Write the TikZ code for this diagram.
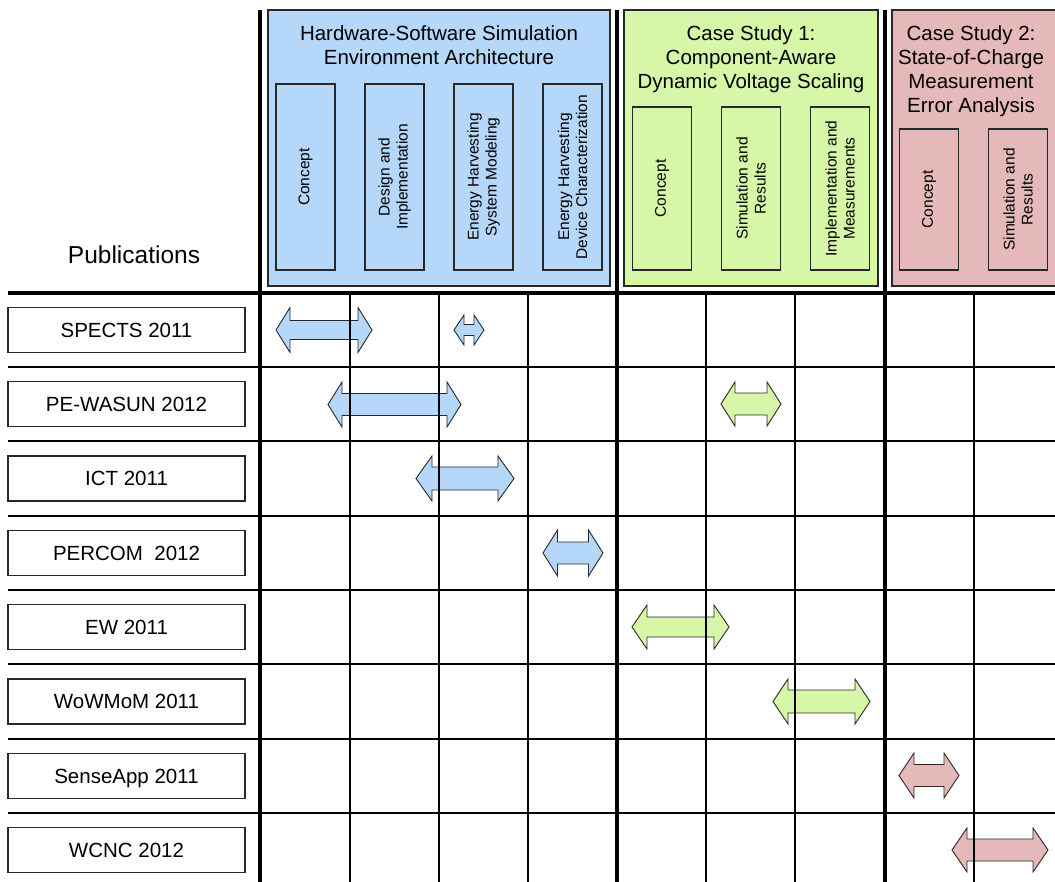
\documentclass[tikz,border=0pt]{standalone}
\usepackage{fontspec}
\setmainfont{Liberation Sans}
\definecolor{hwblue}{RGB}{180,215,250}
\definecolor{csgreen}{RGB}{215,247,168}
\definecolor{csred}{RGB}{229,185,186}
\definecolor{edge}{RGB}{40,40,40}

% double-headed block arrow: fill, left x, right x, centre y, half height, half shaft, head length
\newcommand\dualarrow[7]{%
  \filldraw[arrowshape, fill=#1]
    (#2,#4) -- (#2+#7,#4-#5) -- (#2+#7,#4-#6) -- (#3-#7,#4-#6) -- (#3-#7,#4-#5)
    -- (#3,#4) -- (#3-#7,#4+#5) -- (#3-#7,#4+#6) -- (#2+#7,#4+#6) -- (#2+#7,#4+#5) -- cycle;}

\begin{document}
\begin{tikzpicture}[x=1pt,y=-1pt,
  headbox/.style={draw=edge, line width=1.3pt, inner sep=0pt},
  subbox/.style={draw=edge, line width=1.2pt, rotate=90, inner sep=0pt, align=center,
    minimum height=59pt, font=\fontsize{15.5}{18}\selectfont},
  pubbox/.style={draw=edge, line width=1.2pt, minimum width=237pt, minimum height=45pt,
    inner sep=0pt, text height=14.8pt, text depth=0pt, font=\fontsize{20.5}{24}\selectfont},
  title/.style={anchor=north, inner sep=0pt, align=center, font=\fontsize{20.5}{24}\selectfont},
  arrowshape/.style={draw=edge, line width=0.9pt, line join=miter},
  gridthick/.style={line width=3.2pt},
  gridthin/.style={line width=1.7pt}]
\useasboundingbox (0,0) rectangle (1055,882);
\clip (0,0) rectangle (1055,882);

% column groups
\node[headbox, fill=hwblue, minimum width=342pt, minimum height=276pt] (hw) at (439,148) {};
\node[headbox, fill=csgreen, minimum width=254pt, minimum height=276pt] (cs1) at (751,148) {};
\node[headbox, fill=csred, minimum width=172pt, minimum height=276pt] (cs2) at (978,148) {};

\node[title] (hwt) at (439,25) {Hardware-Software Simulation\\Environment Architecture};
\node[title] (cs1t) at (751,25) {Case Study 1:\\Component-Aware\\Dynamic Voltage Scaling};
\node[title] (cs2t) at (971,25) {Case Study 2:\\State-of-Charge\\Measurement\\Error Analysis};

% column sub-headings
\node[subbox, fill=hwblue, minimum width=186pt] (hw1) at (305.5,177) {Concept};
\node[subbox, fill=hwblue, minimum width=186pt] (hw2) at (394.5,177) {Design and\\Implementation};
\node[subbox, fill=hwblue, minimum width=186pt] (hw3) at (483.5,177) {Energy Harvesting\\System Modeling};
\node[subbox, fill=hwblue, minimum width=186pt] (hw4) at (572.5,177) {Energy Harvesting\\Device Characterization};

\node[subbox, fill=csgreen, minimum width=163pt] (cs11) at (662,188.5) {Concept};
\node[subbox, fill=csgreen, minimum width=163pt] (cs12) at (751,188.5) {Simulation and\\Results};
\node[subbox, fill=csgreen, minimum width=163pt] (cs13) at (840,188.5) {Implementation and\\Measurements};

\node[subbox, fill=csred, minimum width=141pt] (cs21) at (929,199.5) {Concept};
\node[subbox, fill=csred, minimum width=141pt] (cs22) at (1018,199.5) {Simulation and\\Results};

% row labels
\node[inner sep=0pt, font=\fontsize{24.5}{28}\selectfont] (pubs) at (134,255) {Publications};
\node[pubbox] (p1) at (126.5,330)   {SPECTS 2011};
\node[pubbox] (p2) at (126.5,404)   {PE-WASUN 2012};
\node[pubbox] (p3) at (126.5,478.5) {ICT 2011};
\node[pubbox] (p4) at (126.5,553)   {PERCOM~~2012};
\node[pubbox] (p5) at (126.5,627)   {EW 2011};
\node[pubbox] (p6) at (126.5,701.5) {WoWMoM 2011};
\node[pubbox] (p7) at (126.5,776)   {SenseApp 2011};
\node[pubbox] (p8) at (126.5,850)   {WCNC 2012};

% coverage arrows
\dualarrow{hwblue}{276}{372}{330}{22.5}{9.5}{14}
\dualarrow{hwblue}{454}{484}{330}{15}{5.5}{10}
\dualarrow{hwblue}{328}{461}{404.5}{22.5}{11}{14}
\dualarrow{csgreen}{721}{781}{404}{22}{11}{14}
\dualarrow{hwblue}{416}{514}{478.5}{22.5}{11.5}{16}
\dualarrow{hwblue}{543}{603}{553}{23}{11}{14.5}
\dualarrow{csgreen}{632}{729}{627}{22}{10}{15}
\dualarrow{csgreen}{773}{870}{701.5}{22.5}{11.5}{15}
\dualarrow{csred}{899}{959}{775.5}{22.5}{11}{15}
\dualarrow{csred}{952}{1048}{850}{22}{11}{15}

% grid
\foreach \x in {350,439,528,706,795,974}
  \draw[gridthin] (\x,293) -- (\x,882);
\foreach \y in {367,441,516,590,664,739,813}
  \draw[gridthin] (8,\y) -- (1055,\y);
\draw[gridthick] (8,293) -- (1055,293);
\foreach \x in {260,617,885}
  \draw[gridthick] (\x,10) -- (\x,882);
\end{tikzpicture}
\end{document}
